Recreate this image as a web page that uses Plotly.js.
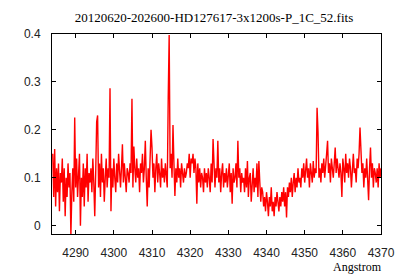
<!DOCTYPE html>
<html>
<head>
<meta charset="utf-8">
<script src="https://cdn.plot.ly/plotly-3.0.1.min.js"></script>
<style>html,body{margin:0;padding:0;background:#fff;}#chart{width:400px;height:280px;}</style>
</head>
<body>
<div id="chart"></div>
<script>
// Wavelength grid (linear dispersion as in the FITS header)
const CRVAL1 = 4284.0;
const CDELT1 = 0.25;

// Flux values, 5 Angstrom per row
const flux = [
  0.15, 0.06, 0.16, 0.04, 0.12, 0.07, 0.13, 0.03, 0.11, 0.09, 0.14, 0.05, 0.12, 0.02, 0.10, 0.06, 0.13, 0.08, 0.11, -0.02,
  0.07, 0.12, 0.05, 0.226, 0.08, 0.14, 0.06, 0.11, 0.15, 0.00, 0.10, 0.06, 0.13, 0.04, 0.12, 0.08, 0.15, 0.05, 0.11, 0.09,
  0.12, 0.07, 0.14, 0.09, 0.02, 0.11, 0.217, 0.23, 0.08, 0.13, 0.06, 0.15, 0.09, 0.12, 0.05, 0.10, 0.14, 0.08, 0.12, 0.10,
  0.287, 0.03, 0.12, 0.08, 0.14, 0.10, 0.07, 0.13, 0.09, 0.15, 0.11, 0.08, 0.12, 0.17, 0.09, 0.13, 0.10, 0.07, 0.12, 0.11,
  0.09, 0.13, 0.11, 0.265, 0.08, 0.165, 0.12, 0.09, 0.14, 0.10, 0.12, 0.07, 0.13, 0.11, 0.15, 0.09, 0.12, 0.177, 0.10, 0.04,
  0.12, 0.08, 0.14, 0.20, 0.163, 0.10, 0.13, 0.07, 0.12, 0.15, 0.09, 0.13, 0.11, 0.08, 0.14, 0.10, 0.12, 0.09, 0.13, 0.11,
  0.08, 0.267, 0.398, 0.12, 0.15, 0.10, 0.21, 0.13, 0.062, 0.12, 0.09, 0.14, 0.10, 0.12, 0.08, 0.13, 0.11, 0.09, 0.12, 0.10,
  0.11, 0.13, 0.12, 0.15, 0.10, 0.14, 0.13, 0.15, 0.11, 0.14, 0.12, 0.046, 0.13, 0.09, 0.12, 0.08, 0.11, 0.10, 0.07, 0.12,
  0.09, 0.11, 0.08, 0.12, 0.10, 0.07, 0.13, 0.09, 0.181, 0.11, 0.08, 0.12, 0.10, 0.177, 0.09, 0.12, 0.07, 0.11, 0.13, 0.08,
  0.11, 0.09, 0.12, 0.08, 0.10, 0.13, 0.07, 0.11, 0.046, 0.12, 0.09, 0.10, 0.13, 0.08, 0.177, 0.10, 0.12, 0.07, 0.11, 0.09,
  0.10, 0.07, 0.12, 0.08, 0.135, 0.06, 0.10, 0.11, 0.05, 0.09, 0.12, 0.07, 0.10, 0.08, 0.13, 0.06, 0.135, 0.09, 0.05, 0.08,
  0.07, 0.04, 0.06, 0.03, 0.07, 0.05, 0.02, 0.06, 0.04, 0.08, 0.03, 0.05, 0.02, 0.06, 0.04, 0.07, 0.05, 0.03, 0.06, 0.04,
  0.07, 0.05, 0.08, 0.04, 0.07, 0.017, 0.08, 0.06, 0.09, 0.07, 0.10, 0.06, 0.09, 0.11, 0.07, 0.10, 0.08, 0.12, 0.09, 0.10,
  0.08, 0.12, 0.10, 0.13, 0.09, 0.11, 0.14, 0.10, 0.12, 0.08, 0.13, 0.11, 0.09, 0.135, 0.10, 0.12, 0.11, 0.246, 0.195, 0.10,
  0.12, 0.09, 0.13, 0.11, 0.14, 0.10, 0.12, 0.15, 0.177, 0.11, 0.13, 0.09, 0.14, 0.12, 0.10, 0.13, 0.163, 0.11, 0.14, 0.12,
  0.10, 0.13, 0.11, 0.06, 0.14, 0.12, 0.09, 0.15, 0.11, 0.13, 0.10, 0.14, 0.12, 0.08, 0.13, 0.15, 0.11, 0.12, 0.09, 0.14,
  0.12, 0.15, 0.205, 0.17, 0.11, 0.13, 0.08, 0.12, 0.10, 0.14, 0.09, 0.053, 0.12, 0.163, 0.10, 0.13, 0.08, 0.12, 0.11, 0.09,
  0.12, 0.08, 0.13, 0.10, 0.12
];

const xTicks = [4290, 4300, 4310, 4320, 4330, 4340, 4350, 4360, 4370];
const yTicks = [0, 0.1, 0.2, 0.3, 0.4];
const yTickLabels = ['0', '0.1', '0.2', '0.3', '0.4'];
const titleText = '20120620-202600-HD127617-3x1200s-P_1C_52.fits';
const xLabel = 'Angstrom';

const wave = flux.map((_, i) => CRVAL1 + i * CDELT1);

const trace = {
  x: wave, y: flux, type: 'scatter', mode: 'lines',
  line: {color: '#ff0000', width: 1.4}, hoverinfo: 'skip'
};

const axisCommon = {
  showline: true, linecolor: '#000', linewidth: 1, mirror: 'ticks',
  ticks: 'inside', ticklen: 4, tickcolor: '#000', tickwidth: 1,
  showgrid: false, zeroline: false,
  tickfont: {family: 'Liberation Sans, Arial, sans-serif', size: 12, color: '#222'}
};

const layout = {
  width: 400, height: 280,
  margin: {l: 52, r: 19, t: 34, b: 46},
  paper_bgcolor: '#fff', plot_bgcolor: '#fff',
  showlegend: false,
  title: {
    text: titleText, x: 0.535, xanchor: 'center', y: 1 - 17/280, yanchor: 'middle', yref: 'container',
    font: {family: 'Liberation Serif, Times New Roman, serif', size: 13, color: '#000'}
  },
  xaxis: Object.assign({}, axisCommon, {
    range: [4283.8, 4370], tickmode: 'array', tickvals: xTicks, ticklabelstandoff: 8
  }),
  yaxis: Object.assign({}, axisCommon, {
    range: [-0.0173, 0.4], tickmode: 'array', tickvals: yTicks, ticktext: yTickLabels, ticklabelstandoff: 8
  }),
  annotations: [{
    text: xLabel, xref: 'paper', yref: 'paper', x: 1.01, y: -0.165, xanchor: 'right', yanchor: 'middle',
    showarrow: false, font: {family: 'Liberation Serif, Times New Roman, serif', size: 12, color: '#000'}
  }]
};

Plotly.newPlot('chart', [trace], layout, {staticPlot: true, displayModeBar: false});
</script>
</body>
</html>
